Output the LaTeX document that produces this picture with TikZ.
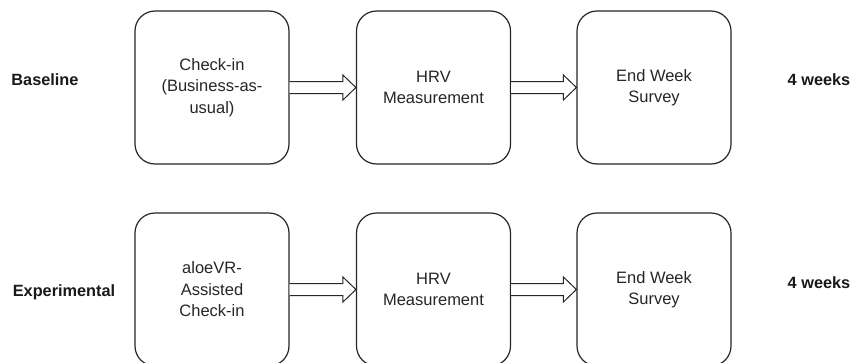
\documentclass[tikz,border=0pt]{standalone}
\usepackage{fontspec}
\setmainfont{Liberation Sans}
\usetikzlibrary{calc}
\tikzset{
  stage/.style={draw=black!85, line width=1.2pt, rounded corners=20pt, minimum width=154pt, minimum height=153pt, inner sep=0pt, align=center, font=\fontsize{16.5}{21.5}\selectfont, text=black!85},
  rowlabel/.style={font=\fontsize{16.3}{19}\selectfont\bfseries, text=black!90, inner sep=0pt},
  blockarrow/.style={draw=black!85, line width=1pt, fill=white, line join=miter}
}
\newcommand{\blockarr}[2]{%
  \draw[blockarrow] ($(#1.east)+(0,6)$) -- ($(#2.west)+(-13,6)$) -- ($(#2.west)+(-13,12.5)$) -- (#2.west) -- ($(#2.west)+(-13,-12.5)$) -- ($(#2.west)+(-13,-6)$) -- ($(#1.east)+(0,-6)$);}
\begin{document}
\begin{tikzpicture}[x=1pt,y=-1pt]
\clip (0,0) rectangle (854,362);
\fill[white] (0,0) rectangle (854,362);
% top row
\node[stage] (b1) at (212,87.5) {Check-in\\(Business-as-\\usual)};
\node[stage] (b2) at (433.5,87.5) {HRV\\Measurement};
\node[stage] (b3) at (654,87.5) {End Week\\Survey};
\node[rowlabel] (bl) at (45,80) {Baseline};
\node[rowlabel] (bw) at (819,80) {4 weeks};
\blockarr{b1}{b2}
\blockarr{b2}{b3}
% bottom row
\node[stage] (e1) at (212,289.5) {aloeVR-\\Assisted\\Check-in};
\node[stage] (e2) at (433.5,289.5) {HRV\\Measurement};
\node[stage] (e3) at (654,289.5) {End Week\\Survey};
\node[rowlabel] (el) at (64,292) {Experimental};
\node[rowlabel] (ew) at (819,283) {4 weeks};
\blockarr{e1}{e2}
\blockarr{e2}{e3}
\end{tikzpicture}
\end{document}
